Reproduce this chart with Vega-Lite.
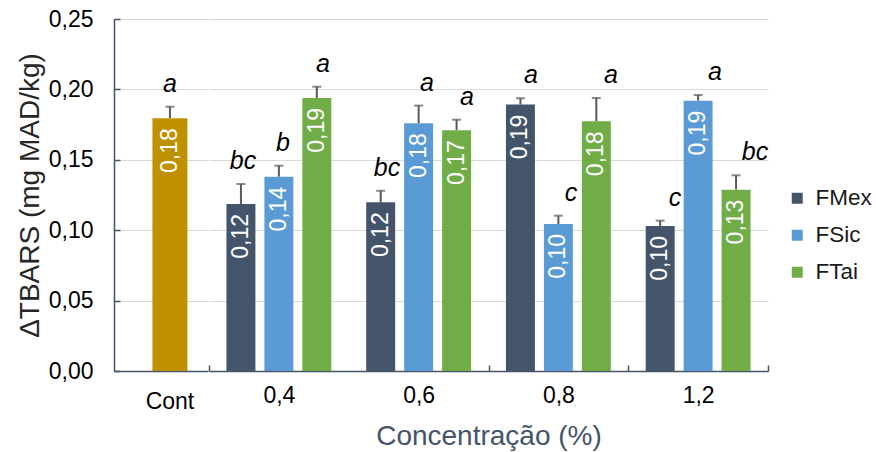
{
  "$schema": "https://vega.github.io/schema/vega-lite/v6.json",
  "padding": {"left": 16, "top": 8, "right": 5, "bottom": 5},
  "background": "white",
  "spacing": 0,
  "config": {
    "locale": {"number": {"decimal": ",", "thousands": ".", "grouping": [3], "currency": ["", " €"]}},
    "font": "Liberation Sans",
    "view": {"stroke": null}
  },
  "datasets": {
    "d": [
      {"conc": "Cont", "series": "Cont", "mean": 0.1795, "hi": 0.1877, "letter": "a"},
      {"conc": "0,4", "series": "FMex", "mean": 0.1186, "hi": 0.1328, "letter": "bc"},
      {"conc": "0,4", "series": "FSic", "mean": 0.138, "hi": 0.1458, "letter": "b"},
      {"conc": "0,4", "series": "FTai", "mean": 0.1939, "hi": 0.2019, "letter": "a"},
      {"conc": "0,6", "series": "FMex", "mean": 0.1198, "hi": 0.128, "letter": "bc"},
      {"conc": "0,6", "series": "FSic", "mean": 0.176, "hi": 0.1885, "letter": "a"},
      {"conc": "0,6", "series": "FTai", "mean": 0.171, "hi": 0.1785, "letter": "a"},
      {"conc": "0,8", "series": "FMex", "mean": 0.1892, "hi": 0.1937, "letter": "a"},
      {"conc": "0,8", "series": "FSic", "mean": 0.1044, "hi": 0.1103, "letter": "c"},
      {"conc": "0,8", "series": "FTai", "mean": 0.1773, "hi": 0.1939, "letter": "a"},
      {"conc": "1,2", "series": "FMex", "mean": 0.103, "hi": 0.1068, "letter": "c"},
      {"conc": "1,2", "series": "FSic", "mean": 0.192, "hi": 0.196, "letter": "a"},
      {"conc": "1,2", "series": "FTai", "mean": 0.1288, "hi": 0.139, "letter": "bc"}
    ]
  },
  "data": {"name": "d"},
  "hconcat": [
    {
      "width": 94,
      "height": 352,
      "transform": [{"filter": "datum.series === 'Cont'"}],
      "encoding": {
        "x": {
          "field": "conc", "type": "nominal",
          "scale": {"domain": ["Cont"], "paddingInner": 0, "paddingOuter": 0.5, "align": 0.69},
          "axis": {"title": null, "labelAngle": 0, "ticks": false, "domainColor": "#44546A", "domainWidth": 1.5, "labelFontSize": 23, "labelColor": "#000000", "labelPadding": 19}
        },
        "y": {
          "field": "mean", "type": "quantitative",
          "scale": {"domain": [0, 0.25], "nice": false},
          "axis": {
            "title": "ΔTBARS (mg MAD/kg)", "titleFontSize": 28, "titleFontWeight": "normal", "titleColor": "#262626", "titlePadding": 4,
            "format": ".2f", "values": [0, 0.05, 0.1, 0.15, 0.2, 0.25],
            "labelFontSize": 23, "labelColor": "#000000", "labelPadding": 27,
            "tickSize": -6, "tickColor": "#44546A", "tickWidth": 1.5,
            "domainColor": "#44546A", "domainWidth": 1.5,
            "grid": true, "gridColor": "#D9D9D9", "gridWidth": 1
          }
        }
      },
      "layer": [
        {"mark": {"type": "rule", "color": "#595959", "strokeWidth": 2}, "encoding": {"y2": {"field": "hi"}}},
        {"mark": {"type": "tick", "orient": "horizontal", "size": 9, "thickness": 2, "color": "#595959"}, "encoding": {"y": {"field": "hi", "type": "quantitative"}}},
        {"mark": {"type": "bar", "width": 35, "color": "#BF9000"}},
        {"mark": {"type": "text", "angle": 270, "align": "right", "baseline": "middle", "dx": -10, "color": "#FFFFFF", "fontSize": 23},
         "encoding": {"text": {"field": "mean", "type": "quantitative", "format": ".2f"}}},
        {"mark": {"type": "text", "fontStyle": "italic", "fontSize": 25, "baseline": "alphabetic", "dy": -15, "color": "#000000"},
         "encoding": {"y": {"field": "hi", "type": "quantitative"}, "text": {"field": "letter"}}}
      ]
    },
    {
      "width": 559,
      "height": 352,
      "transform": [{"filter": "datum.series !== 'Cont'"}],
      "layer": [
        {
          "encoding": {
            "x": {
              "field": "conc", "type": "nominal",
              "scale": {"domain": ["0,4", "0,6", "0,8", "1,2"], "paddingInner": 0, "paddingOuter": 0},
              "axis": {
                "title": "Concentração  (%)", "titleFontSize": 28, "titleFontWeight": "normal", "titleColor": "#44546A", "titlePadding": 15,
                "labelAngle": 0, "labelFontSize": 23, "labelColor": "#000000", "labelPadding": 19,
                "tickBand": "extent", "tickSize": -6, "tickColor": "#44546A", "tickWidth": 1.5,
                "tickOpacity": {"condition": {"test": "datum.value === '0,4'", "value": 0}, "value": 1},
                "domainColor": "#44546A", "domainWidth": 1.5
              }
            },
            "xOffset": {"field": "series", "type": "nominal", "scale": {"domain": ["FMex", "FSic", "FTai"], "paddingInner": 0.237, "paddingOuter": 0.46}},
            "y": {
              "field": "mean", "type": "quantitative",
              "scale": {"domain": [0, 0.25], "nice": false},
              "axis": {"title": null, "labels": false, "ticks": false, "domain": false, "grid": true, "gridColor": "#D9D9D9", "gridWidth": 1, "values": [0, 0.05, 0.1, 0.15, 0.2, 0.25]}
            }
          },
          "layer": [
            {"mark": {"type": "rule", "color": "#595959", "strokeWidth": 2}, "encoding": {"y2": {"field": "hi"}}},
            {"mark": {"type": "tick", "orient": "horizontal", "size": 9, "thickness": 2, "color": "#595959"}, "encoding": {"y": {"field": "hi", "type": "quantitative"}}},
            {"mark": {"type": "bar"},
             "encoding": {"color": {"field": "series", "type": "nominal",
               "scale": {"domain": ["FMex", "FSic", "FTai"], "range": ["#44546A", "#5B9BD5", "#70AD47"]},
               "legend": {"title": null, "orient": "none", "legendX": 672, "legendY": 168, "symbolType": "square", "symbolSize": 121, "symbolStrokeWidth": 0, "labelFontSize": 22.5, "labelColor": "#1A1A1A", "labelOffset": 7, "rowPadding": 14, "padding": 0}}}},
            {"mark": {"type": "text", "angle": 270, "align": "right", "baseline": "middle", "dx": -10, "color": "#FFFFFF", "fontSize": 23},
             "encoding": {"text": {"field": "mean", "type": "quantitative", "format": ".2f"}}}
          ]
        },
        {
          "mark": {"type": "text", "fontStyle": "italic", "fontSize": 25, "baseline": "alphabetic", "dy": -15, "color": "#000000"},
          "encoding": {
            "x": {"field": "conc", "type": "nominal", "scale": {"type": "band", "domain": ["0,4", "0,6", "0,8", "1,2"], "range": [14, 590], "paddingInner": 0, "paddingOuter": 0}, "axis": null},
            "xOffset": {"field": "series", "type": "nominal", "scale": {"type": "band", "domain": ["FMex", "FSic", "FTai"], "range": [0, 120], "paddingInner": 0, "paddingOuter": 0}},
            "y": {"field": "hi", "type": "quantitative", "scale": {"domain": [0, 0.25], "nice": false}},
            "text": {"field": "letter"}
          }
        }
      ],
      "resolve": {"scale": {"x": "independent", "xOffset": "independent"}, "axis": {"x": "independent"}}
    }
  ]
}
